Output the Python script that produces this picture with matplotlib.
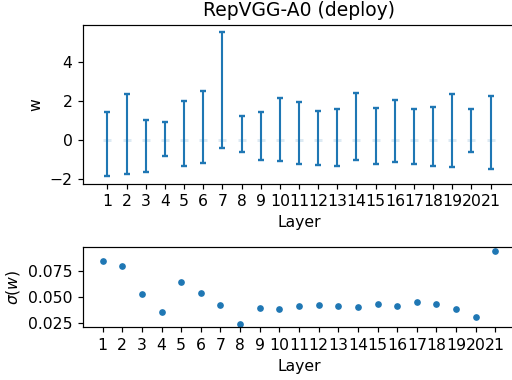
import matplotlib
matplotlib.use("Agg")
import matplotlib.pyplot as plt
import numpy as np

layers = list(range(1, 22))
w_max = [1.42, 2.34, 1.05, 0.92, 1.98, 2.49, 5.51, 1.22, 1.42, 2.17, 1.97,
         1.47, 1.59, 2.39, 1.64, 2.05, 1.61, 1.71, 2.36, 1.58, 2.27]
w_min = [-1.86, -1.71, -1.63, -0.81, -1.32, -1.17, -0.41, -0.61, -1.00, -1.08, -1.20,
         -1.27, -1.34, -1.00, -1.22, -1.10, -1.24, -1.34, -1.39, -0.63, -1.49]
w_mean = [0.0] * 21
w_std = [0.0850, 0.0801, 0.0530, 0.0356, 0.0646, 0.0534, 0.0421, 0.0243, 0.0391, 0.0382, 0.0418,
         0.0421, 0.0411, 0.0404, 0.0433, 0.0411, 0.0450, 0.0433, 0.0388, 0.0311, 0.0944]

plt.rcParams['font.size'] = 10.4

x = np.array(layers)
mean = np.array(w_mean)
yerr = [mean - np.array(w_min), np.array(w_max) - mean]

fig = plt.figure(figsize=(512 / 108, 380 / 108), dpi=108)
ax1 = fig.add_axes([83 / 512, 1 - 183.7 / 380, 432 / 512, 158.7 / 380])
ax2 = fig.add_axes([83 / 512, 1 - 327.3 / 380, 432 / 512, 80 / 380])

# min/max range per layer, faint mean marker
ax1.errorbar(x, mean, yerr=yerr, fmt='none', ecolor='C0', elinewidth=1.4,
             capsize=2.2, capthick=1.6)
ax1.plot(x, mean, '_', color='C0', alpha=0.15, markersize=5.5, markeredgewidth=2)
ax1.set_xticks(layers)
ax1.set_xlim(-0.27, 22.27)
ax1.set_title('RepVGG-A0 (deploy)')
ax1.set_xlabel('Layer')
ax1.set_ylabel('w')

ax2.scatter(x, w_std, s=12, color='C0')
ax2.set_xticks(layers)
ax2.set_xlim(0, 22)
ax2.set_xlabel('Layer')
ax2.set_ylabel(r'$\sigma(w)$')

fig.savefig('out.png', dpi=108)
